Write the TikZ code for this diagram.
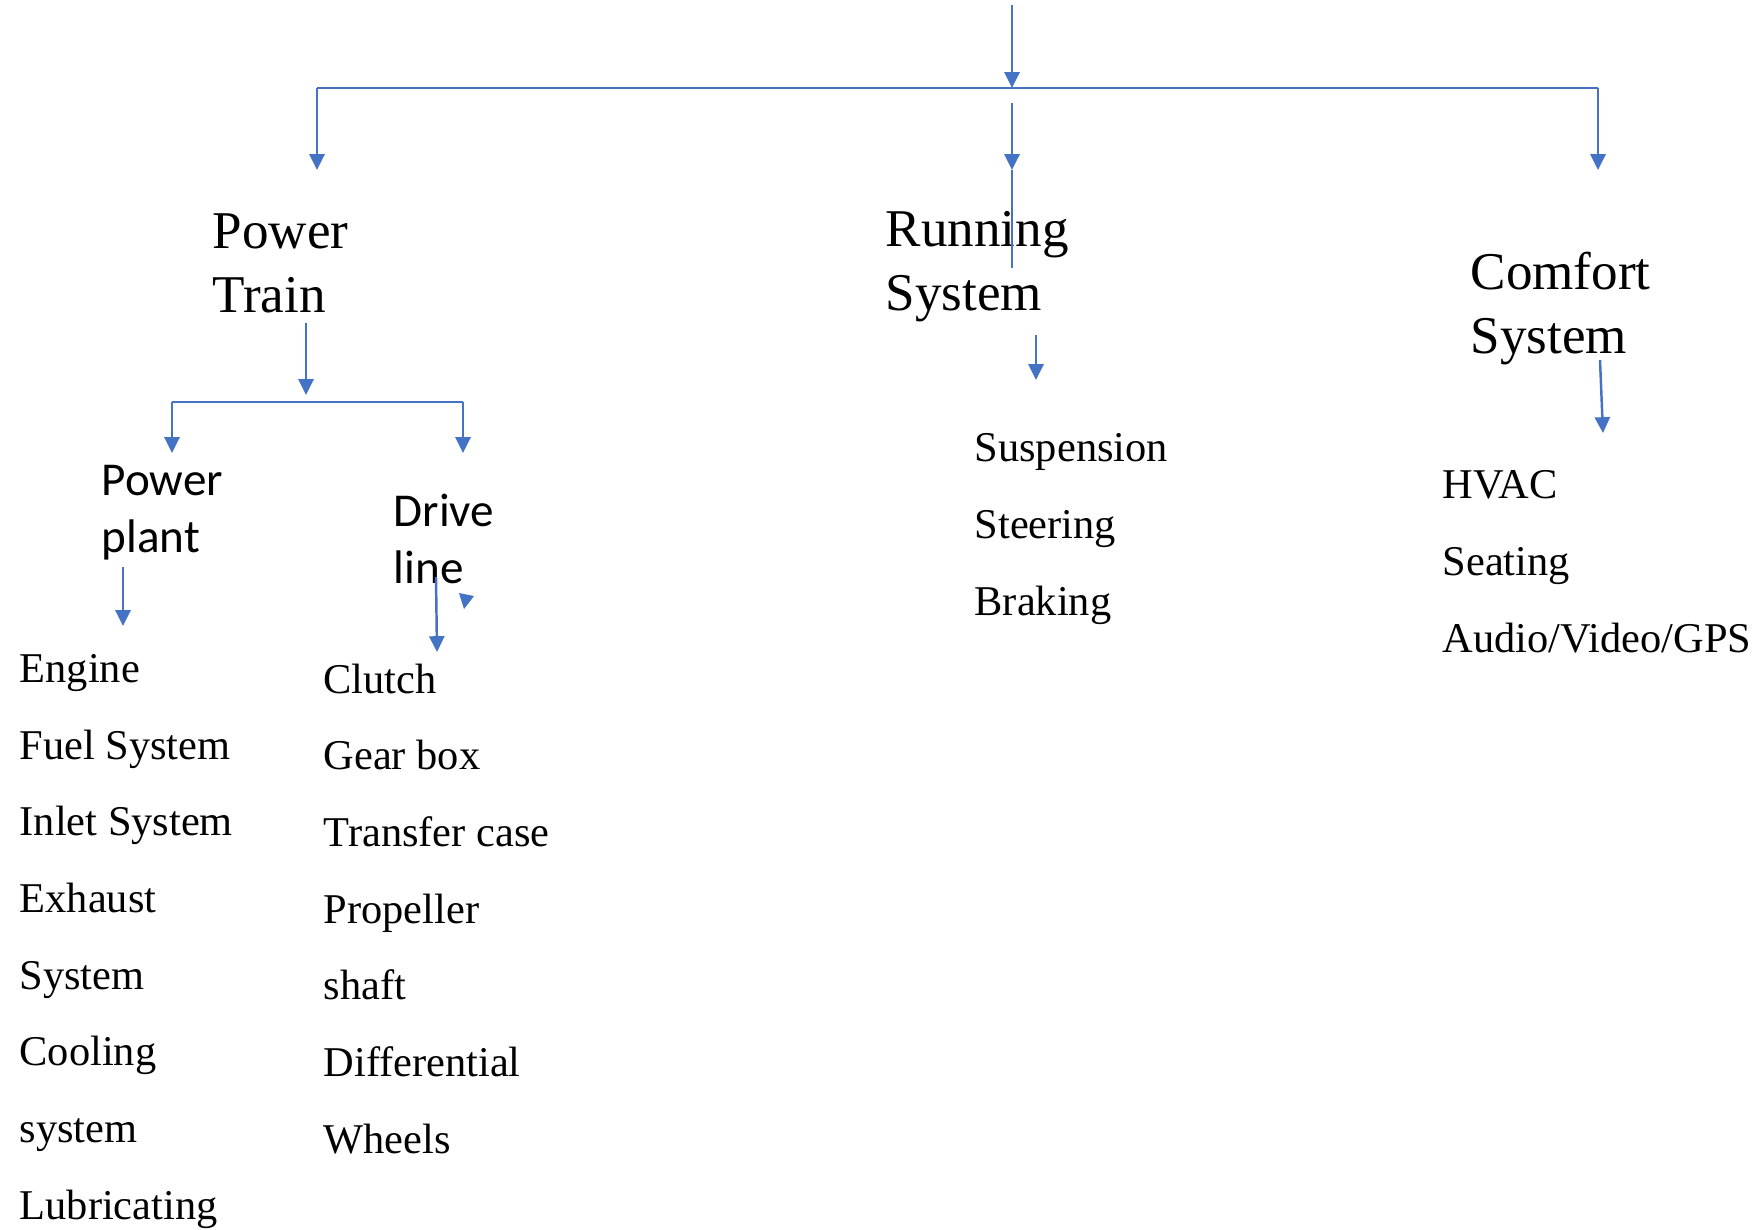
\documentclass[tikz,border=0pt]{standalone}
\usepackage{fontspec}
\usepackage{xcolor}
\usetikzlibrary{arrows.meta}
\setmainfont{Liberation Serif}
\newfontfamily\calibri{Carlito}
\definecolor{office-blue}{RGB}{68, 114, 196}
\tikzset{
    heading/.style={inner sep=0, anchor=base west, align=left, font=\fontsize{15.1}{18.2}\selectfont},
    subheading/.style={inner sep=0, anchor=base west, align=left, font=\calibri\fontsize{13.4}{16.2}\selectfont},
    itemlist/.style={inner sep=0, anchor=base west, align=left, font=\fontsize{12.06}{21.8}\selectfont},
    link/.style={draw=office-blue, line width=0.7pt, -{Triangle[width=4.3pt,length=4.5pt]}},
    bus/.style={draw=office-blue, line width=0.55pt}
}

\begin{document}
\begin{tikzpicture}[x=0.01cm, y=-0.01cm]
\useasboundingbox (0,0) rectangle (1757,1229);

% headings (placed at the baseline of their last line)
\node[heading] (power-train) at (212,312) {Power\\Train};
\node[heading] (running) at (885,310) {Running\\System};
\node[heading] (comfort) at (1470,353) {Comfort\\System};
\node[subheading] (power-plant) at (101,552) {Power\\plant};
\node[subheading] (drive-line) at (393,583) {Drive\\line};

% lists
\node[itemlist] (plant-list) at (19,1219) {Engine\\Fuel System\\Inlet System\\Exhaust\\System\\Cooling\\system\\Lubricating};
\node[itemlist] (drive-list) at (323,1153) {Clutch\\Gear box\\Transfer case\\Propeller\\shaft\\Differential\\Wheels};
\node[itemlist] (running-list) at (974,615) {Suspension\\Steering\\Braking};
\node[itemlist] (comfort-list) at (1442,652) {HVAC\\Seating\\Audio/Video/GPS};

% connector ends
\coordinate (top) at (1012,5);
\coordinate (bus-mid) at (1012,88);
\coordinate (bus-w) at (317,88);
\coordinate (bus-e) at (1598,88);
\coordinate (pt-tip) at (317,170);
\coordinate (cs-tip) at (1598,170);
\coordinate (rs-start) at (1012,103);
\coordinate (rs-tip) at (1012,170);
\coordinate (rs-end) at (1012,268);
\coordinate (pt-out) at (306,323);
\coordinate (pt-in) at (306,395);
\coordinate (sub-w) at (172,402);
\coordinate (sub-e) at (463,402);
\coordinate (pp-tip) at (172,453);
\coordinate (dl-tip) at (463,453);
\coordinate (pp-out) at (123,567);
\coordinate (pp-in) at (123,626);
\coordinate (dl-out) at (436,577);
\coordinate (dl-in) at (437,652);
\coordinate (rs-out) at (1036,335);
\coordinate (rs-in) at (1036,380);
\coordinate (cs-out) at (1600,360);
\coordinate (cs-in) at (1603,433);

% top level
\draw[link] (top) -- (bus-mid);
\draw[bus] (bus-w) -- (bus-e);
\draw[link] (bus-w) -- (pt-tip);
\draw[link] (bus-e) -- (cs-tip);
\draw[link] (rs-start) -- (rs-tip);
\draw[draw=office-blue, line width=0.35pt] (rs-tip) -- (rs-end);

% power train
\draw[link] (pt-out) -- (pt-in);
\draw[bus] (sub-w) -- (sub-e);
\draw[link] (sub-w) -- (pp-tip);
\draw[link] (sub-e) -- (dl-tip);
\draw[link] (pp-out) -- (pp-in);
\draw[link] (dl-out) -- (dl-in);
\fill[office-blue] (459,593) -- (474,596) -- (464,609) -- cycle;

% running and comfort
\draw[link] (rs-out) -- (rs-in);
\draw[link] (cs-out) -- (cs-in);
\end{tikzpicture}
\end{document}
